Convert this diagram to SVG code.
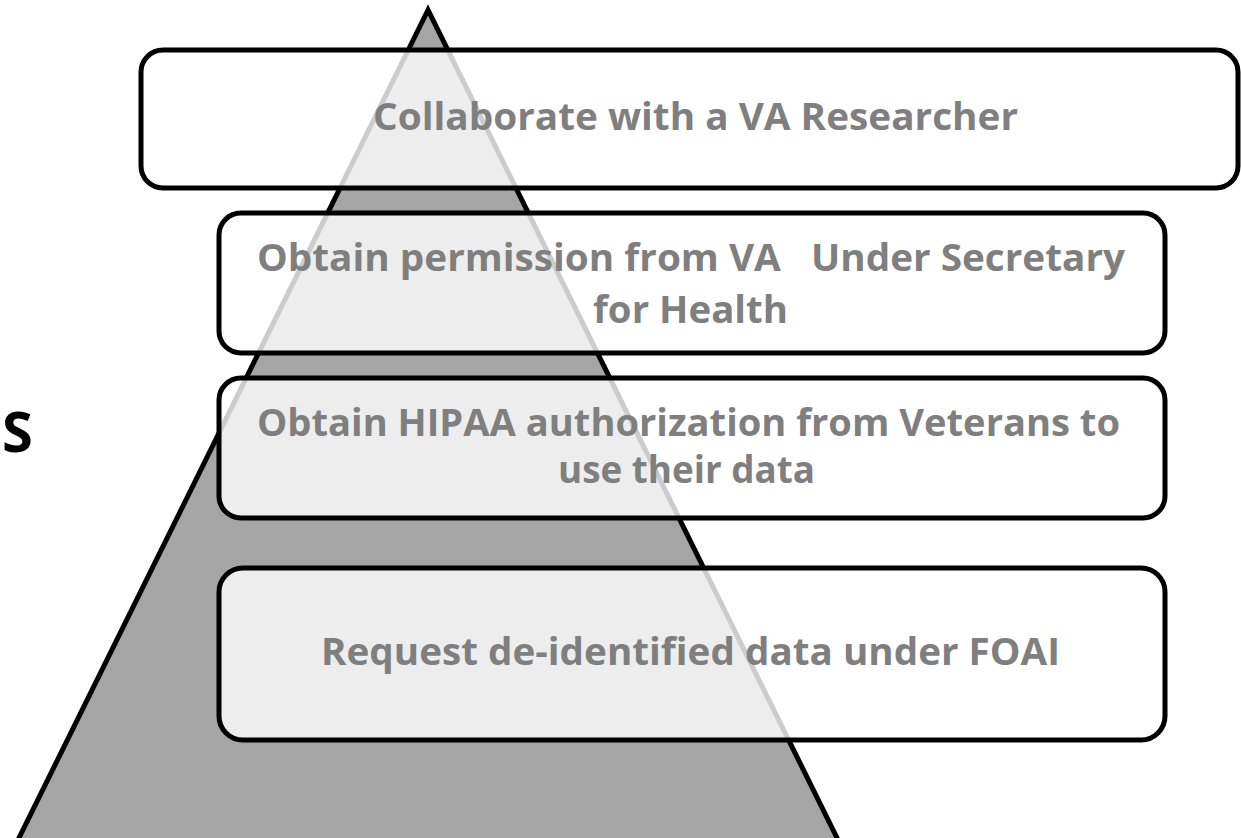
<svg xmlns="http://www.w3.org/2000/svg" width="1241" height="838" viewBox="0 0 1241 838">
  <style>
    .box { fill: #ffffff; fill-opacity: 0.8; stroke: #000000; stroke-width: 5; }
    .lbl { font-family: "Open Sans", "Liberation Sans", sans-serif; font-weight: bold; font-size: 38px; fill: #7f7f7f; white-space: pre; }
    .side { font-family: "Open Sans", "Liberation Sans", sans-serif; font-weight: bold; font-size: 56px; fill: #000000; }
  </style>
  <rect x="0" y="0" width="1241" height="838" fill="#ffffff"/>
  <g id="pyramid">
    <polygon points="428,10 14,848 842,848" fill="#a5a5a5" stroke="#000000" stroke-width="5" stroke-linejoin="miter"/>
  </g>
  <text class="side" x="2" y="452">S</text>
  <g id="connectors"></g>
  <g id="node-collaborate">
    <rect class="box" x="141" y="50" width="1097" height="138" rx="22" ry="22"/>
    <text class="lbl" x="373" y="130" textLength="645" lengthAdjust="spacingAndGlyphs">Collaborate with a VA Researcher</text>
  </g>
  <g id="node-permission">
    <rect class="box" x="219" y="213" width="946" height="140" rx="22" ry="22"/>
    <text class="lbl" x="257" y="271" textLength="868" lengthAdjust="spacingAndGlyphs">Obtain permission from VA   Under Secretary</text>
    <text class="lbl" x="593" y="323" textLength="195" lengthAdjust="spacingAndGlyphs">for Health</text>
  </g>
  <g id="node-hipaa">
    <rect class="box" x="219" y="378" width="946" height="140" rx="22" ry="22"/>
    <text class="lbl" x="257" y="436" textLength="863" lengthAdjust="spacingAndGlyphs">Obtain HIPAA authorization from Veterans to</text>
    <text class="lbl" x="558" y="483" textLength="257" lengthAdjust="spacingAndGlyphs">use their data</text>
  </g>
  <g id="node-request">
    <rect class="box" x="219" y="568" width="946" height="172" rx="24" ry="24"/>
    <text class="lbl" x="321" y="665" textLength="739" lengthAdjust="spacingAndGlyphs">Request de-identified data under FOAI</text>
  </g>
</svg>
